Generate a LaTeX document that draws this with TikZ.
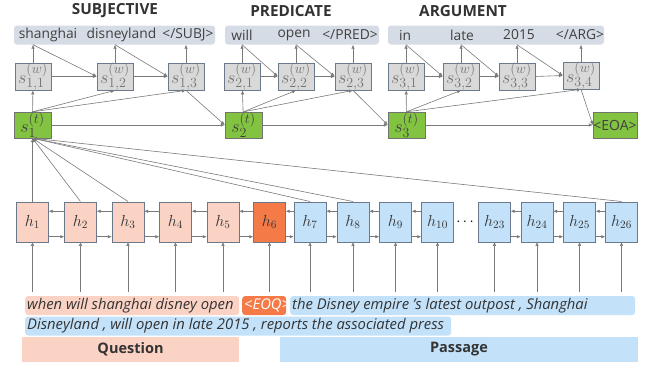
\documentclass[tikz,border=0pt]{standalone}
\usepackage{fix-cm}
\usepackage{fontspec}
\setmainfont{Open Sans}
\usetikzlibrary{arrows.meta, positioning}
\DeclareMathSizes{18}{18}{14}{11}

\definecolor{barGray}{HTML}{D6DCE5}
\definecolor{boxGray}{HTML}{D9D9D9}
\definecolor{edgeGray}{HTML}{6A7A8C}
\definecolor{stateGreen}{HTML}{82C341}
\definecolor{qPink}{HTML}{FBD3C4}
\definecolor{eoqOrange}{HTML}{F47B48}
\definecolor{pBlue}{HTML}{C3E2FA}
\definecolor{lineGray}{HTML}{7A7A7A}

\begin{document}
\begin{tikzpicture}[x=1pt, y=-1pt,
		title/.style={font=\fontsize{15.3}{18}\selectfont\bfseries, text=black!80},
		bar/.style={fill=barGray, rounded corners=3pt, minimum height=19pt, inner sep=0pt},
		word/.style={font=\fontsize{13.8}{16}\selectfont, text=black!75, inner sep=1pt},
		wbox/.style={draw=edgeGray, fill=boxGray, minimum width=36pt, minimum height=27pt, inner sep=0pt, text=black!55, font=\fontsize{18}{20}\selectfont},
		tbox/.style={draw=black!55, fill=stateGreen, minimum width=37pt, minimum height=26pt, inner sep=0pt, text=black!75, font=\fontsize{18}{20}\selectfont},
		hq/.style={draw=edgeGray, fill=qPink, minimum width=32pt, minimum height=40pt, inner sep=0pt, text=black!80, font=\fontsize{16}{18}\selectfont},
		hp/.style={hq, fill=pBlue},
		arr/.style={-{Latex[length=4pt, width=3.5pt]}, draw=lineGray, line width=0.6pt},
		hl/.style={rounded corners=3pt, inner xsep=2pt, inner ysep=0pt, minimum height=19pt, anchor=west, text=black!80, font=\fontsize{14.8}{17}\selectfont\itshape},
		tag/.style={font=\fontsize{14.5}{17}\selectfont\bfseries, minimum height=25pt, inner sep=0pt, text=black!80}]
			\useasboundingbox (0, 0) rectangle (650, 364);

			\node (ttlS)[title] at (115, 11) {SUBJECTIVE};
			\node (ttlP)[title] at (291, 11) {PREDICATE};
			\node (ttlA)[title] at (463, 11) {ARGUMENT};

			\node (subj)[bar, minimum width=201pt] at (114.5, 35) {};
			\node (pred)[bar, minimum width=154pt] at (302, 35) {};
			\node (args)[bar, minimum width=216pt] at (496, 35) {};

			\node (w11)[word] at (48, 35) {shanghai};
			\node (w12)[word] at (121.5, 35) {disneyland};
			\node (w13)[word] at (188, 35) {</SUBJ>};
			\node (w21)[word] at (242, 35) {will};
			\node (w22)[word] at (294, 35) {open};
			\node (w23)[word] at (350, 35) {</PRED>};
			\node (w31)[word] at (405, 35) {in};
			\node (w32)[word] at (462, 35) {late};
			\node (w33)[word] at (519, 35) {2015};
			\node (w34)[word] at (580, 35) {</ARG>};

			\node (s11)[wbox] at (33, 76.5) {$s^{(w)}_{1,1}$};
			\node (s12)[wbox] at (115, 76.5) {$s^{(w)}_{1,2}$};
			\node (s13)[wbox] at (186, 76.5) {$s^{(w)}_{1,3}$};
			\node (s21)[wbox] at (242, 76.5) {$s^{(w)}_{2,1}$};
			\node (s22)[wbox] at (296, 76.5) {$s^{(w)}_{2,2}$};
			\node (s23)[wbox] at (353, 76.5) {$s^{(w)}_{2,3}$};
			\node (s31)[wbox] at (406, 76.5) {$s^{(w)}_{3,1}$};
			\node (s32)[wbox] at (461, 76.5) {$s^{(w)}_{3,2}$};
			\node (s33)[wbox] at (517, 76.5) {$s^{(w)}_{3,3}$};
			\node (s34)[wbox] at (581, 75.5) {$s^{(w)}_{3,4}$};

			\node (s1t)[tbox] at (32.5, 125) {$s^{(t)}_1$};
			\node (s2t)[tbox] at (243.5, 125) {$s^{(t)}_2$};
			\node (s3t)[tbox] at (406.5, 125) {$s^{(t)}_3$};
			\node (eoa)[tbox, minimum width=44pt, font=\fontsize{14}{16}\selectfont] at (615, 125) {<EOA>};

			\node (h1)[hq] at (32.5, 221.7) {$h_{1}$};
			\node (h2)[hq] at (80.5, 221.7) {$h_{2}$};
			\node (h3)[hq] at (128, 221.7) {$h_{3}$};
			\node (h4)[hq] at (175.5, 221.7) {$h_{4}$};
			\node (h5)[hq] at (223, 221.7) {$h_{5}$};
			\node (h6)[hq, fill=eoqOrange] at (269.5, 221.7) {$h_{6}$};
			\node (h7)[hp] at (310, 221.7) {$h_{7}$};
			\node (h8)[hp] at (353, 221.7) {$h_{8}$};
			\node (h9)[hp] at (395.5, 221.7) {$h_{9}$};
			\node (h10)[hp] at (437.5, 221.7) {$h_{10}$};
			\node (dots)[font=\fontsize{15}{17}\selectfont\bfseries] at (465, 221.7) {$\cdots$};
			\node (h23)[hp] at (494.5, 221.7) {$h_{23}$};
			\node (h24)[hp] at (537, 221.7) {$h_{24}$};
			\node (h25)[hp] at (579.5, 221.7) {$h_{25}$};
			\node (h26)[hp] at (621.5, 221.7) {$h_{26}$};

			\node (qtxt)[hl, fill=qPink] at (25, 305.5) {\makebox[210pt][l]{when will shanghai disney open}};
			\node (eoq)[hl, fill=eoqOrange, text=white] at (242, 305.5) {\makebox[40pt][l]{<EOQ>}};
			\node (ptxt1)[hl, fill=pBlue] at (290, 305.5) {\makebox[341pt][l]{the Disney empire 's latest outpost , Shanghai}};
			\node (ptxt2)[hl, fill=pBlue] at (25, 326) {\makebox[422pt][l]{Disneyland , will open in late 2015 , reports the associated press}};

			\node (qlab)[tag, fill=qPink, minimum width=217pt] at (130.5, 349.5) {Question};
			\node (plab)[tag, fill=pBlue, minimum width=358pt] at (459, 349.5) {Passage};

			\coordinate (in1) at (32.5, 292);
			\coordinate (in2) at (80.5, 292);
			\coordinate (in3) at (128, 292);
			\coordinate (in4) at (175.5, 292);
			\coordinate (in5) at (223, 292);
			\coordinate (in6) at (269.5, 292);
			\coordinate (in7) at (310, 292);
			\coordinate (in8) at (353, 292);
			\coordinate (in9) at (395.5, 292);
			\coordinate (in10) at (437.5, 292);
			\coordinate (in23) at (494.5, 292);
			\coordinate (in24) at (537, 292);
			\coordinate (in25) at (579.5, 292);
			\coordinate (in26) at (621.5, 292);

			\draw[arr] (s11) -- (s11 |- subj.south);
			\draw[arr] (s11 |- subj.south) -- (s12.west);
			\draw[arr] (s11) -- (s12);
			\draw[arr] (s12) -- (s12 |- subj.south);
			\draw[arr] (s12 |- subj.south) -- (s13.west);
			\draw[arr] (s12) -- (s13);
			\draw[arr] (s13) -- (s13 |- subj.south);

			\draw[arr] (s21) -- (s21 |- pred.south);
			\draw[arr] (s21 |- pred.south) -- (s22.west);
			\draw[arr] (s21) -- (s22);
			\draw[arr] (s22) -- (s22 |- pred.south);
			\draw[arr] (s22 |- pred.south) -- (s23.west);
			\draw[arr] (s22) -- (s23);
			\draw[arr] (s23) -- (s23 |- pred.south);

			\draw[arr] (s31) -- (s31 |- args.south);
			\draw[arr] (s31 |- args.south) -- (s32.west);
			\draw[arr] (s31) -- (s32);
			\draw[arr] (s32) -- (s32 |- args.south);
			\draw[arr] (s32 |- args.south) -- (s33.west);
			\draw[arr] (s32) -- (s33);
			\draw[arr] (s33) -- (s33 |- args.south);
			\draw[arr] (s33 |- args.south) -- (s34.west);
			\draw[arr] (s33.east) -- (s34.west);
			\draw[arr] (s34) -- (s34 |- args.south);

			\draw[arr] (s1t) -- (s11);
			\draw[arr] (s1t.north) -- (s12.south);
			\draw[arr] (s1t.north) -- (s13.south);
			\draw[arr] (s13.south) -- (s2t.west);
			\draw[arr] (s2t) -- (s21);
			\draw[arr] (s2t.north) -- (s22.south);
			\draw[arr] (s2t.north) -- (s23.south);
			\draw[arr] (s23.south) -- (s3t.west);
			\draw[arr] (s3t) -- (s31);
			\draw[arr] (s3t.north) -- (s32.south);
			\draw[arr] (s3t.north) -- (s34.south);
			\draw[arr] (s34.south) -- (eoa.west);

			\draw[arr] (s1t) -- (s2t);
			\draw[arr] (s2t) -- (s3t);
			\draw[arr] (s3t) -- (eoa);

			\draw[arr] (h1) -- (s1t);
			\draw[arr] (h2.north) -- (s1t.south);
			\draw[arr] (h3.north) -- (s1t.south);
			\draw[arr] (h7.north) -- (s1t.south);
			\draw[arr] (h8.north) -- (s1t.south);
			\draw[arr] (h26.north) -- (s1t.south);

			\draw[arr] ([yshift=10.5pt]h2.west) -- ([yshift=10.5pt]h1.east);
			\draw[arr] ([yshift=-15pt]h1.east) -- ([yshift=-15pt]h2.west);
			\draw[arr] ([yshift=10.5pt]h3.west) -- ([yshift=10.5pt]h2.east);
			\draw[arr] ([yshift=-15pt]h2.east) -- ([yshift=-15pt]h3.west);
			\draw[arr] ([yshift=10.5pt]h4.west) -- ([yshift=10.5pt]h3.east);
			\draw[arr] ([yshift=-15pt]h3.east) -- ([yshift=-15pt]h4.west);
			\draw[arr] ([yshift=10.5pt]h5.west) -- ([yshift=10.5pt]h4.east);
			\draw[arr] ([yshift=-15pt]h4.east) -- ([yshift=-15pt]h5.west);
			\draw[arr] ([yshift=10.5pt]h6.west) -- ([yshift=10.5pt]h5.east);
			\draw[arr] ([yshift=-15pt]h5.east) -- ([yshift=-15pt]h6.west);
			\draw[arr] ([yshift=10.5pt]h7.west) -- ([yshift=10.5pt]h6.east);
			\draw[arr] ([yshift=-15pt]h6.east) -- ([yshift=-15pt]h7.west);
			\draw[arr] ([yshift=10.5pt]h8.west) -- ([yshift=10.5pt]h7.east);
			\draw[arr] ([yshift=-15pt]h7.east) -- ([yshift=-15pt]h8.west);
			\draw[arr] ([yshift=10.5pt]h9.west) -- ([yshift=10.5pt]h8.east);
			\draw[arr] ([yshift=-15pt]h8.east) -- ([yshift=-15pt]h9.west);
			\draw[arr] ([yshift=10.5pt]h10.west) -- ([yshift=10.5pt]h9.east);
			\draw[arr] ([yshift=-15pt]h9.east) -- ([yshift=-15pt]h10.west);
			\draw[arr] ([yshift=10.5pt]h24.west) -- ([yshift=10.5pt]h23.east);
			\draw[arr] ([yshift=-15pt]h23.east) -- ([yshift=-15pt]h24.west);
			\draw[arr] ([yshift=10.5pt]h25.west) -- ([yshift=10.5pt]h24.east);
			\draw[arr] ([yshift=-15pt]h24.east) -- ([yshift=-15pt]h25.west);
			\draw[arr] ([yshift=10.5pt]h26.west) -- ([yshift=10.5pt]h25.east);
			\draw[arr] ([yshift=-15pt]h25.east) -- ([yshift=-15pt]h26.west);

			\draw[arr] (in1) -- (h1);
			\draw[arr] (in2) -- (h2);
			\draw[arr] (in3) -- (h3);
			\draw[arr] (in4) -- (h4);
			\draw[arr] (in5) -- (h5);
			\draw[arr] (in6) -- (h6);
			\draw[arr] (in7) -- (h7);
			\draw[arr] (in8) -- (h8);
			\draw[arr] (in9) -- (h9);
			\draw[arr] (in10) -- (h10);
			\draw[arr] (in23) -- (h23);
			\draw[arr] (in24) -- (h24);
			\draw[arr] (in25) -- (h25);
			\draw[arr] (in26) -- (h26);
		\end{tikzpicture}
\end{document}
